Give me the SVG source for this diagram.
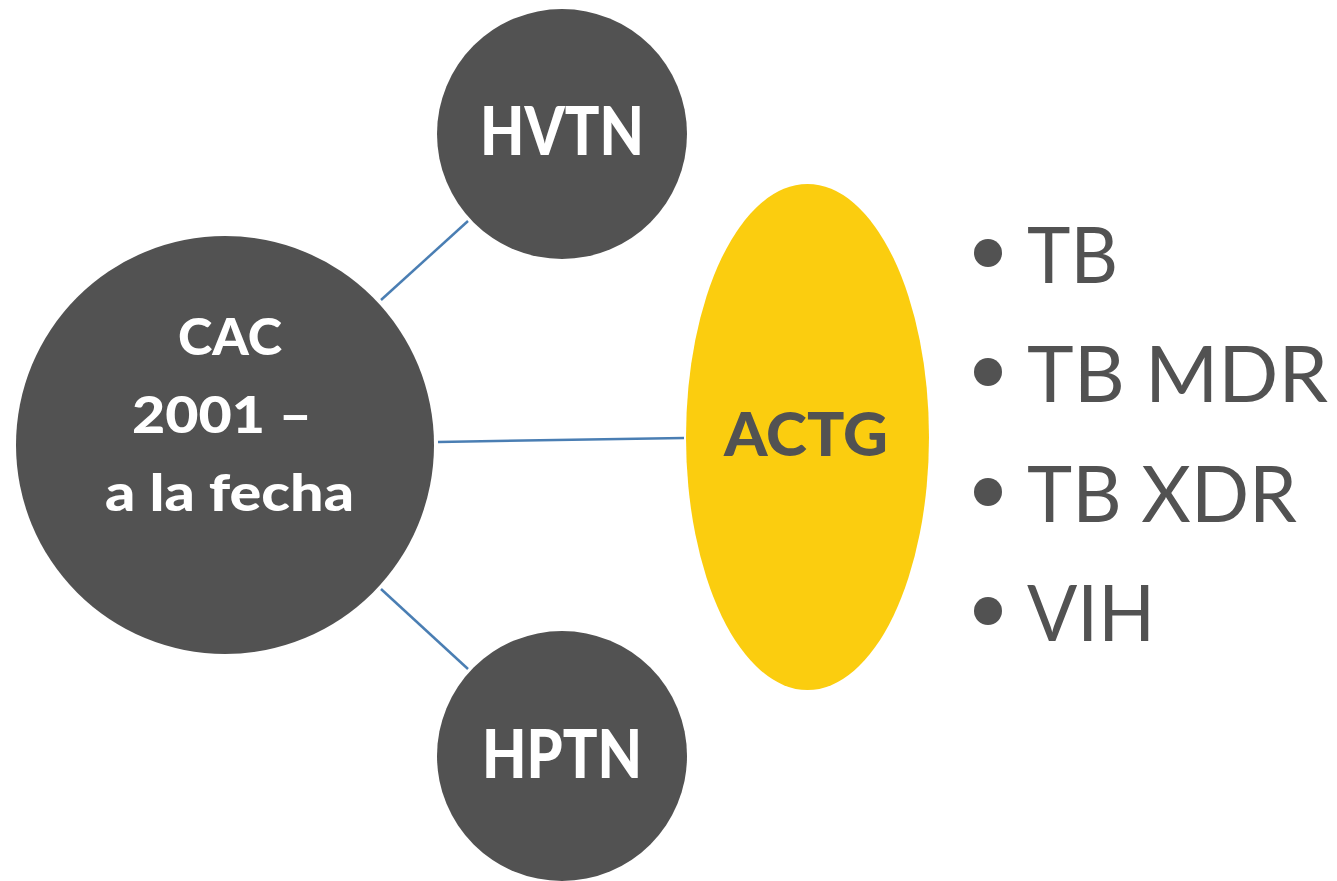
<svg xmlns="http://www.w3.org/2000/svg" width="1337" height="881" viewBox="0 0 1337 881">
<style>
.dark{fill:#525252}
.yellow{fill:#FBCD0F}
.wt{fill:#ffffff;font-family:Lato,"Open Sans","Liberation Sans",sans-serif;font-weight:900;text-anchor:middle}
.gt{fill:#525252;font-family:Lato,"Open Sans","Liberation Sans",sans-serif}
.conn line{stroke:#4A7EB3;stroke-width:2.5}
</style>
<rect width="1337" height="881" fill="#ffffff"/>
<g id="connectors" class="conn">
<line x1="381" y1="300" x2="468" y2="221"/>
<line x1="438" y1="442" x2="684" y2="438"/>
<line x1="381" y1="589" x2="468" y2="669"/>
</g>
<g id="cac">
<circle class="dark" cx="225" cy="445" r="209"/>
<text class="wt" x="230" y="355" font-size="52" textLength="104" lengthAdjust="spacingAndGlyphs">CAC</text>
<text class="wt" x="222" y="433" font-size="52" textLength="180" lengthAdjust="spacingAndGlyphs">2001 –</text>
<text class="wt" x="229.5" y="511" font-size="52" textLength="249" lengthAdjust="spacingAndGlyphs">a la fecha</text>
</g>
<g id="hvtn">
<circle class="dark" cx="562" cy="134" r="125"/>
<text class="wt" x="562" y="155" font-size="66" textLength="164" lengthAdjust="spacingAndGlyphs">HVTN</text>
</g>
<g id="hptn">
<circle class="dark" cx="562" cy="756" r="125"/>
<text class="wt" x="562" y="778" font-size="66" textLength="160" lengthAdjust="spacingAndGlyphs">HPTN</text>
</g>
<g id="actg">
<ellipse class="yellow" cx="807.5" cy="437" rx="121.5" ry="253"/>
<text class="wt" x="806" y="456" font-size="60" style="fill:#525252" textLength="164" lengthAdjust="spacingAndGlyphs">ACTG</text>
</g>
<g id="list">
<circle class="dark" cx="988" cy="253" r="14"/>
<text class="gt" x="1027" y="283" font-size="77" textLength="91" lengthAdjust="spacingAndGlyphs">TB</text>
<circle class="dark" cx="988" cy="372" r="14"/>
<text class="gt" x="1027" y="402" font-size="77" textLength="301" lengthAdjust="spacingAndGlyphs">TB MDR</text>
<circle class="dark" cx="988" cy="492" r="14"/>
<text class="gt" x="1027" y="522" font-size="77" textLength="270" lengthAdjust="spacingAndGlyphs">TB XDR</text>
<circle class="dark" cx="988" cy="611" r="14"/>
<text class="gt" x="1027" y="641" font-size="77" textLength="128" lengthAdjust="spacingAndGlyphs">VIH</text>
</g>
</svg>
